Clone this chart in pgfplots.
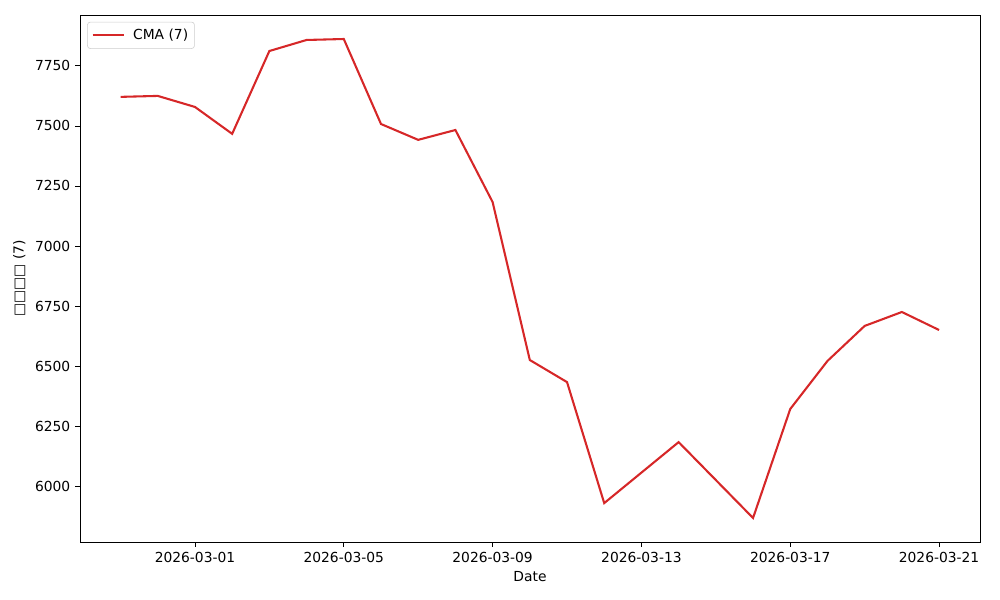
\documentclass[border=0pt]{standalone}
\usepackage{fontspec}
\setmainfont{DejaVu Sans}
\usepackage{pgfplots}
\pgfplotsset{compat=1.18}
\definecolor{tabred}{RGB}{214,39,40}

% daily values, day 0 = 2026-03-01
\pgfplotstableread{
day cma
-2 7621
-1 7625
0 7579
1 7467
2 7812
3 7858
4 7862
5 7508
6 7442
7 7483
8 7183
9 6525
10 6433
11 5929
12 6056
13 6183
14 6025
15 5867
16 6321
17 6521
18 6667
19 6725
20 6650
}\cmatable

\begin{document}
\fontsize{10pt}{12pt}\selectfont
\begin{tikzpicture}
\begin{axis}[
  name=ax,
  scale only axis,
  width=9in, height=5.27in,
  xmin=-3.09, xmax=21.1,
  ymin=5767, ymax=7962,
  xtick={0,4,8,12,16,20},
  xticklabels={2026-03-01,2026-03-05,2026-03-09,2026-03-13,2026-03-17,2026-03-21},
  ytick={6000,6250,...,7750},
  /pgf/number format/1000 sep={},
  /pgf/number format/assume math mode=true,
  tick label style={font=\fontsize{10pt}{12pt}\selectfont},
  label style={font=\fontsize{10pt}{12pt}\selectfont},
  tick align=outside,
  tick pos=left,
  major tick length=3.5pt,
  every tick/.style={black, line width=0.6pt},
  axis line style={line width=0.6pt},
  xlabel={Date},
  ylabel={□□□□ (7)},
  legend cell align=left,
  legend style={at={(0.008,0.987)}, anchor=north west, draw=black!20,
    rounded corners=2pt, font=\fontsize{10pt}{12pt}\selectfont,
    inner xsep=3pt, inner ysep=3.5pt,
    nodes={inner sep=1.5pt}},
  legend image code/.code={\draw[#1] (-3pt,0pt) -- (20pt,0pt);},
]
\addplot[tabred, line width=1.5pt] table[x=day, y=cma] {\cmatable};
\addlegendentry{\hspace{4pt}CMA (7)}
\end{axis}
\path (ax.south west) ++(-0.8in,-0.58in) (ax.north east) ++(0.2in,0.15in);
\end{tikzpicture}
\end{document}
